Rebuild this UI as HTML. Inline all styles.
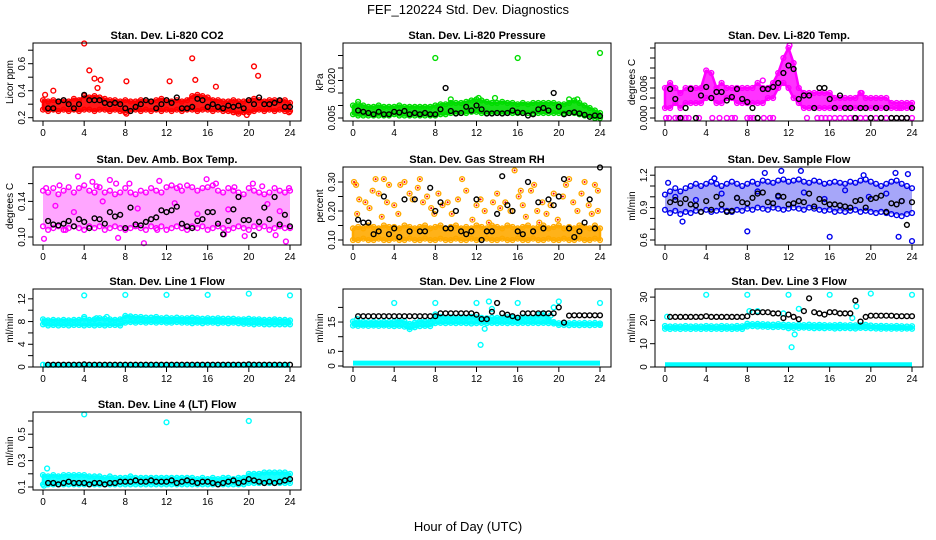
<!DOCTYPE html>
<html><head><meta charset="utf-8"><style>
html,body{margin:0;padding:0;background:#fff}
svg{display:block;font-family:"Liberation Sans",Arial,sans-serif}
</style></head><body>
<svg id="chart" width="936" height="540" viewBox="0 0 936 540" xmlns="http://www.w3.org/2000/svg">
<text x="468" y="14" text-anchor="middle" font-size="13">FEF_120224  Std. Dev. Diagnostics</text>
<text x="468" y="531" text-anchor="middle" font-size="13">Hour of Day (UTC)</text>
</svg>
<script>
// x axis ticks
const xTicks=[0,4,8,12,16,20,24];
// ---- CO2
const co2Lo=[.26,.25,.26,.25,.26,.25,.26,.25,.26,.26,.25,.26,.26,.25,.26,.25,.24,.25,.26,.25,.26,.25,.26,.25,.26,.25,.26,.25,.26,.26,.25,.26,.26,.25,.26,.25,.25,.24,.23,.24,.24,.25,.26,.25,.26,.25,.26,.25,.25];
const co2Hi=[.33,.32,.33,.32,.33,.32,.34,.33,.36,.35,.36,.35,.34,.33,.33,.32,.33,.32,.32,.33,.33,.32,.33,.34,.33,.32,.33,.32,.33,.36,.37,.36,.35,.33,.33,.32,.32,.33,.32,.32,.33,.34,.33,.32,.33,.33,.32,.33,.31];
const co2Out=[[4,.75],[4.5,.55],[5,.49],[5.6,.48],[5.3,.42],[1,.40],[8.1,.47],[12.3,.47],[14.5,.64],[14.8,.48],[16.8,.43],[20.5,.58],[20.9,.51],[19.8,.22],[8.1,.23],[0.2,.37],[23.9,.24]];
const co2Blk=[.27,.27,.32,.33,.30,.27,.30,.37,.33,.33,.33,.31,.30,.31,.30,.27,.25,.28,.30,.33,.32,.27,.30,.33,.31,.35,.27,.27,.28,.34,.33,.28,.30,.28,.27,.29,.28,.29,.27,.33,.30,.35,.30,.30,.31,.33,.28,.28];
// ---- Pressure
const prLo=[.0065,.006,.006,.006,.006,.006,.006,.006,.0065,.006,.006,.006,.006,.006,.006,.006,.006,.0065,.0065,.007,.007,.007,.007,.0075,.0075,.007,.007,.007,.007,.007,.007,.007,.007,.007,.007,.007,.007,.007,.007,.007,.007,.007,.007,.007,.0065,.006,.0055,.005,.005];
const prHi=[.010,.0105,.010,.0095,.0095,.010,.0095,.0095,.0095,.010,.0095,.0095,.0095,.0095,.0095,.0095,.010,.0105,.0105,.011,.011,.011,.0115,.012,.0125,.012,.0115,.011,.011,.0115,.011,.011,.0105,.011,.0105,.011,.011,.011,.011,.011,.0105,.0105,.011,.012,.011,.010,.009,.008,.007];
const prOut=[[8,.029],[16,.029],[24,.031],[0.5,.0115],[9.5,.0125],[13.8,.0130],[21,.0125],[21.8,.0125],[12.2,.0130]];
const prBlk=[.008,.0075,.007,.0065,.0075,.0065,.0065,.0075,.0072,.0078,.0065,.007,.0065,.007,.0065,.0065,.0085,.017,.0078,.0068,.007,.0095,.008,.010,.0085,.0068,.0068,.0070,.0068,.007,.0080,.0072,.007,.006,.0065,.0085,.009,.0080,.015,.0095,.0065,.007,.0073,.0068,.0063,.0055,.0060,.0058];
// ---- Li-820 Temp
const tpLo=[.002,.002,.003,.002,.003,.003,.003,.003,.004,.004,.003,.003,.004,.004,.003,.003,.003,.003,.003,.003,.004,.004,.006,.007,.006,.004,.003,.002,.002,.002,.002,.002,.002,.002,.002,.002,.002,.002,.002,.002,.002,.002,.002,.002,.002,.002,.002,.002,.002];
const tpHi=[.006,.007,.006,.005,.006,.006,.006,.006,.0095,.009,.006,.007,.006,.006,.006,.006,.006,.006,.007,.006,.006,.007,.009,.012,.014,.011,.006,.005,.005,.005,.005,.005,.005,.004,.004,.004,.004,.004,.005,.004,.004,.004,.004,.004,.003,.003,.003,.003,.003];
const tpZero=[0.1,0.4,1,1.3,1.6,2,2.3,3.3,4.6,5.3,6,6.5,6.8,8,8.3,8.6,9.6,10.2,10.5,13.8,14.8,15.2,15.6,16,16.5,17,17.5,18,18.4,19,19.5,20,20.5,21,21.5,22,22.5,23,23.5,24];
const tpOut=[[12.1,.0145],[9.5,.0075],[19.1,.0050],[22.8,.0020]];
const tpBlk=[.0058,.0038,.0,.0020,.0058,.0,.0045,.0062,.0040,.0052,.0052,.0035,.0042,.0058,.0038,.0032,.0020,.0,.0058,.0058,.0062,.0070,.0090,.0105,.0098,.0038,.0045,.0045,.0020,.0060,.0060,.0038,.0020,.0045,.0020,.0020,.0,.0020,.0020,.0,.0020,.0,.0020,.0,.0,.0,.0,.0020];
// ---- Amb Box Temp
const abLo=[.112,.108,.11,.112,.108,.11,.112,.11,.108,.112,.11,.112,.108,.11,.112,.11,.108,.11,.112,.11,.108,.112,.11,.112,.108,.11,.112,.11,.108,.112,.11,.112,.108,.11,.112,.11,.108,.11,.112,.11,.108,.112,.11,.112,.108,.11,.112,.11,.11];
const abHi=[.152,.15,.155,.148,.152,.156,.15,.155,.158,.152,.15,.156,.15,.152,.148,.15,.155,.15,.148,.152,.15,.155,.152,.15,.156,.158,.155,.152,.158,.156,.152,.155,.156,.158,.152,.15,.155,.152,.15,.148,.155,.152,.15,.148,.15,.155,.152,.15,.152];
const abOut=[[0.1,.098],[3.4,.168],[4.8,.162],[6.5,.164],[7.1,.160],[8.4,.160],[9.8,.093],[11.3,.163],[15.9,.165],[16.8,.160],[20.4,.160],[23.6,.095],[23.9,.155],[0.3,.155],[7.3,.099],[2.2,.108],[11.1,.108],[17.6,.103],[19.6,.101],[22.6,.102],[13.3,.157],[18.6,.156],[5.2,.157],[21.3,.157],[1.6,.158],[1.2,.135],[3.0,.128],[5.8,.140],[9.2,.132],[12.8,.138],[15.0,.126],[18.0,.131],[21.8,.137],[23.0,.129]];
const abBlk=[.118,.114,.113,.115,.118,.112,.120,.117,.110,.121,.120,.115,.128,.123,.125,.110,.133,.114,.113,.117,.120,.122,.130,.128,.130,.134,.115,.112,.110,.118,.120,.128,.128,.115,.103,.118,.131,.145,.119,.119,.102,.117,.133,.120,.145,.114,.125,.112];
// ---- Gas Stream RH
const rhLo=[.10,.10,.105,.10,.10,.105,.10,.10,.105,.10,.10,.105,.10,.10,.105,.10,.10,.105,.10,.10,.105,.10,.10,.105,.10,.10,.105,.10,.10,.105,.10,.10,.105,.10,.10,.105,.10,.10,.105,.10,.10,.105,.10,.10,.105,.10,.10,.105,.10];
const rhHi=[.14,.145,.14,.15,.145,.14,.15,.145,.145,.14,.15,.145,.14,.145,.15,.14,.145,.15,.14,.145,.15,.14,.145,.14,.15,.145,.14,.15,.145,.14,.15,.145,.14,.145,.15,.14,.145,.15,.14,.145,.15,.14,.145,.14,.15,.145,.14,.15,.14];
const rhOut=[[0.1,.30],[0.3,.29],[0.6,.24],[0.4,.19],[1.2,.23],[1.6,.21],[1.9,.27],[2.2,.31],[2.5,.26],[3,.31],[3.3,.23],[3.5,.29],[4,.22],[4.4,.19],[4.6,.29],[5,.30],[5.5,.26],[5.8,.24],[6.3,.28],[6.5,.31],[6.8,.23],[7.2,.25],[7.6,.21],[8.3,.26],[8.7,.22],[9.2,.23],[9.6,.19],[10.2,.24],[10.6,.31],[11,.27],[11.6,.17],[12,.22],[12.4,.24],[12.8,.20],[13.2,.16],[13.6,.23],[14,.26],[14.3,.21],[14.8,.23],[15.3,.20],[15.7,.34],[16.1,.25],[16.5,.22],[16.8,.18],[17.3,.27],[17.6,.29],[17.9,.20],[18.4,.23],[18.8,.19],[19.2,.22],[19.5,.26],[19.9,.17],[20.4,.25],[20.7,.29],[21,.31],[21.4,.23],[21.8,.20],[22.2,.26],[22.5,.30],[22.9,.22],[23.2,.19],[23.5,.29],[23.8,.27],[23.8,.20],[16.3,.27],[18.1,.16],[2.8,.18],[7.9,.19]];
const rhBlk=[.17,.16,.16,.12,.13,.25,.12,.14,.11,.24,.13,.24,.13,.13,.28,.20,.23,.14,.14,.20,.13,.12,.13,.24,.10,.13,.13,.19,.32,.22,.20,.13,.12,.30,.13,.23,.14,.24,.22,.25,.31,.14,.11,.13,.16,.24,.14,.35];
// ---- Sample Flow
const sfLo=[.88,.85,.87,.84,.86,.85,.87,.86,.88,.86,.87,.88,.87,.86,.88,.87,.89,.88,.90,.89,.88,.90,.89,.88,.89,.90,.89,.88,.90,.89,.88,.87,.88,.86,.87,.86,.87,.88,.86,.87,.86,.85,.86,.85,.84,.83,.82,.84,.85];
const sfHi=[1.02,1.05,1.08,1.05,1.08,1.10,1.12,1.10,1.12,1.14,1.12,1.10,1.12,1.14,1.12,1.10,1.12,1.14,1.12,1.15,1.14,1.13,1.15,1.16,1.14,1.15,1.16,1.14,1.13,1.15,1.14,1.12,1.13,1.14,1.13,1.12,1.14,1.13,1.15,1.16,1.14,1.12,1.10,1.12,1.14,1.15,1.12,1.10,1.08];
const sfOut=[[8,.68],[16,.63],[22.7,.63],[24,.59],[11.3,1.24],[13.2,1.24],[22.4,1.22],[23.6,1.21],[1.7,.77],[0.3,1.13],[9.7,1.22],[4.8,1.17],[19.3,1.20],[1.0,1.0],[3.0,.97],[5.5,1.03],[7.0,.99],[9.0,1.05],[11.0,1.0],[13.5,1.04],[15.5,.98],[17.5,1.06],[19.8,1.0],[21.5,1.03],[23.0,.96]];
const sfBlk=[.95,.97,.94,.98,.93,.92,.86,.96,.88,1.00,.93,.86,.87,.99,.95,.94,.99,1.03,1.04,.95,.94,1.01,1.00,.93,.94,.96,.95,1.03,.91,.98,.95,.93,.93,.92,.91,.90,.96,.97,.90,.98,.99,1.01,.86,.94,.93,.96,.74,.95];
// ---- Line 1 Flow
const l1Lo=[7.5,7.3,7.4,7.3,7.4,7.3,7.4,7.4,7.3,7.4,7.3,7.4,7.3,7.4,7.4,7.3,7.8,7.9,7.8,7.9,7.8,7.9,7.8,7.9,7.8,7.8,7.9,7.8,7.8,7.7,7.8,7.7,7.8,7.8,7.7,7.8,7.7,7.8,7.7,7.6,7.6,7.5,7.6,7.5,7.5,7.5,7.5,7.5,7.5];
const l1Hi=[8.4,8.2,8.3,8.2,8.3,8.2,8.3,8.3,8.5,8.3,8.4,8.6,8.5,8.4,8.3,8.4,9.0,8.9,8.8,8.8,8.7,8.7,8.8,8.6,8.7,8.6,8.7,8.6,8.6,8.7,8.6,8.5,8.6,8.5,8.6,8.5,8.5,8.5,8.4,8.4,8.5,8.4,8.4,8.3,8.3,8.4,8.3,8.3,8.2];
const l1Out=[[4,12.6],[8,12.7],[12,12.7],[16,12.7],[20,12.9],[24,12.6],[0,0.4],[4,8.8],[5.2,8.6],[6.2,8.8]];
const l1Blk=[.4,.4,.4,.4,.4,.4,.4,.45,.4,.4,.4,.4,.4,.4,.4,.4,.4,.4,.4,.4,.4,.4,.4,.4,.4,.4,.4,.4,.4,.4,.4,.4,.4,.4,.4,.4,.4,.4,.4,.45,.4,.4,.4,.4,.4,.4,.4,.4];
const l1Base=[.3,.3,.3,.3,.3,.3,.3,.3,.3,.3,.3,.3,.3,.3,.3,.3,.3,.3,.3,.3,.3,.3,.3,.3,.3,.3,.3,.3,.3,.3,.3,.3,.3,.3,.3,.3,.3,.3,.3,.3,.3,.3,.3,.3,.3,.3,.3,.3,.3];
// ---- Line 2 Flow
const l2Lo=[13.8,13.7,13.8,13.7,13.8,13.7,13.8,13.7,13.6,13.7,13.4,12.6,13.2,13.6,13.7,13.6,14.6,14.7,14.6,14.7,14.6,14.7,14.6,14.5,14.6,14.7,14.6,14.7,14.6,14.7,14.6,14.7,14.6,14.7,14.6,14.7,14.6,14.7,14.6,14.5,14.0,14.0,13.9,14.0,13.9,14.0,13.9,14.0,14.0];
const l2Hi=[15.2,15.0,15.1,15.0,15.1,15.0,15.1,15.0,15.2,15.4,15.2,14.4,14.8,15.3,15.2,15.3,17.6,16.8,16.4,16.6,16.5,16.6,16.5,16.8,16.6,16.4,16.3,16.5,16.4,16.5,16.6,16.5,16.4,16.6,16.5,16.4,17.4,18.0,16.0,15.0,14.6,14.7,14.6,14.7,14.6,14.7,14.6,14.7,14.5];
const l2Out=[[4,21.5],[8,21.5],[12,21.5],[16,21.5],[20,22.0],[24,21.5],[12.4,7.2],[12.8,12.7],[13.2,22.0],[13.5,19.5],[19.2,17.2],[19.5,20.0],[0.4,16.0]];
const l2Blk=[17,17,17,17,17,17,17,17,17,17,17,17,17,17,17,17,18,18,18,18,18,18,18,17.5,16,16,18.5,21.5,18,17.5,17,16.5,18,18,18,18,18,18,18,20,14.8,17.2,17.3,17.3,17.3,17.3,17.3,17.3];
const l2Base=[1,1,1,1,1,1,1,1,1,1,1,1,1,1,1,1,1,1,1,1,1,1,1,1,1,1,1,1,1,1,1,1,1,1,1,1,1,1,1,1,1,1,1,1,1,1,1,1,1];
// ---- Line 3 Flow
const l3Lo=[16.4,16.3,16.4,16.3,16.4,16.3,16.4,16.3,16.4,16.3,16.4,16.3,16.4,16.3,16.4,16.3,17.4,17.5,17.4,17.3,17.2,17.1,17.2,17.1,16.6,16.8,16.8,16.9,16.8,16.6,16.7,16.6,16.8,16.5,16.6,16.7,16.6,16.5,16.8,16.7,16.6,16.5,16.4,16.5,16.4,16.5,16.4,16.5,16.4];
const l3Hi=[17.6,17.4,17.5,17.4,17.6,17.4,17.5,17.4,17.6,17.5,17.4,17.6,17.5,17.4,17.6,17.5,18.6,18.4,18.5,18.4,18.3,18.2,18.4,18.2,18.1,18.0,18.1,18.0,18.2,18.0,18.1,18.0,17.9,18.0,18.1,17.9,18.0,17.9,18.0,18.1,17.8,17.6,17.7,17.6,17.5,17.6,17.5,17.4,17.5];
const l3Out=[[4,31],[8,31],[12,31],[16,31],[20,31.5],[24,31],[12.3,8.5],[12.6,14],[13,25],[18.2,21],[18.6,26],[8.2,24],[9,24],[11.5,23],[0.2,21.6]];
const l3Blk=[21.5,21.5,21.5,21.5,21.5,21.5,21.5,21.8,21.5,21.5,21.5,21.5,21.5,21.5,21.5,21.8,23.5,23.5,23.5,23.5,23,23,21,22.5,21.5,20.5,24,29.5,23.5,23,22.5,23.5,23.5,23,23,23,28.5,19.5,21.5,22,22,22,22,22,21.8,21.8,21.8,21.8];
const l3Base=[1,1,1,1,1,1,1,1,1,1,1,1,1,1,1,1,1,1,1,1,1,1,1,1,1,1,1,1,1,1,1,1,1,1,1,1,1,1,1,1,1,1,1,1,1,1,1,1,1];
// ---- Line 4 Flow
const l4Lo=[.12,.12,.12,.12,.12,.12,.12,.12,.12,.12,.12,.12,.12,.12,.12,.12,.12,.12,.12,.12,.12,.12,.12,.12,.12,.12,.12,.12,.12,.12,.12,.12,.12,.12,.12,.12,.12,.12,.12,.12,.13,.13,.13,.13,.13,.13,.13,.13,.13];
const l4Hi=[.19,.18,.19,.18,.19,.19,.19,.19,.19,.18,.18,.18,.17,.18,.17,.17,.17,.18,.17,.17,.17,.17,.17,.17,.17,.17,.17,.17,.17,.17,.16,.17,.16,.17,.16,.17,.17,.16,.17,.17,.20,.20,.20,.21,.21,.21,.21,.21,.20];
const l4Out=[[4,.65],[12,.59],[20,.60],[0.4,.24],[0.1,.11]];
const l4Blk=[.13,.13,.12,.13,.14,.13,.13,.13,.12,.13,.13,.12,.13,.13,.14,.14,.14,.15,.14,.14,.15,.14,.14,.14,.15,.13,.14,.15,.14,.13,.14,.14,.13,.12,.13,.14,.15,.13,.14,.16,.15,.14,.13,.14,.13,.14,.15,.16];

const svg=document.getElementById('chart');
const NS='http://www.w3.org/2000/svg';
function mk(tag,attrs,parent){const e=document.createElementNS(NS,tag);for(const k in attrs)e.setAttribute(k,attrs[k]);(parent||svg).appendChild(e);return e;}

const colL=[33,343,655], rowT=[43,167,289,412];
const panels=[
 {name:'co2',title:'Stan. Dev. Li-820 CO2',yl:'Licor ppm',c:0,r:0,col:'#ff0000',v0:.2,y0:117.7,k:135,lo:co2Lo,hi:co2Hi,out:co2Out,blk:co2Blk,ticks:[.2,.3,.4,.5,.6,.7],labs:['0.2','','0.4','','0.6','']},
 {name:'pressure',title:'Stan. Dev. Li-820 Pressure',yl:'kPa',c:1,r:0,col:'#00dd00',v0:.005,y0:118,k:2500,lo:prLo,hi:prHi,out:prOut,blk:prBlk,ticks:[.005,.010,.015,.020,.025,.030],labs:['0.005','','','0.020','','']},
 {name:'li820-temp',title:'Stan. Dev. Li-820 Temp.',yl:'degrees C',c:2,r:0,col:'#ff00ff',v0:0,y0:118,k:5000,lo:tpLo,hi:tpHi,out:tpOut,blk:tpBlk,zero:tpZero,ticks:[0,.002,.004,.006,.008,.010,.012,.014],labs:['0.000','','','0.006','','','',''],op:.8},
 {name:'amb-box-temp',title:'Stan. Dev. Amb. Box Temp.',yl:'degrees C',c:0,r:1,col:'#ff00ff',v0:.10,y0:237,k:890,lo:abLo,hi:abHi,out:abOut,blk:abBlk,ticks:[.10,.12,.14,.16],labs:['0.10','','0.14',''],op:.35,nostroke:true},
 {name:'gas-stream-rh',title:'Stan. Dev. Gas Stream RH',yl:'percent',c:1,r:1,col:'#ffaa00',v0:.10,y0:240,k:290,lo:rhLo,hi:rhHi,out:rhOut,blk:rhBlk,ticks:[.10,.15,.20,.25,.30],labs:['0.10','','0.20','','0.30'],dot:'#ff0000'},
 {name:'sample-flow',title:'Stan. Dev. Sample Flow',yl:'ml/min',c:2,r:1,col:'#0000ee',v0:.6,y0:240,k:108,lo:sfLo,hi:sfHi,out:sfOut,blk:sfBlk,ticks:[.6,.7,.8,.9,1.0,1.1,1.2],labs:['0.6','','','0.9','','','1.2'],op:.35,nostroke:true},
 {name:'line1-flow',title:'Stan. Dev. Line 1 Flow',yl:'ml/min',c:0,r:2,col:'#00ffff',v0:0,y0:367,k:5.68,lo:l1Lo,hi:l1Hi,out:l1Out,blk:l1Blk,base:l1Base,ticks:[0,2,4,6,8,10,12],labs:['0','','4','','8','','12']},
 {name:'line2-flow',title:'Stan. Dev. Line 2 Flow',yl:'ml/min',c:1,r:2,col:'#00ffff',v0:0,y0:366,k:2.93,lo:l2Lo,hi:l2Hi,out:l2Out,blk:l2Blk,base:l2Base,ticks:[0,5,10,15,20],labs:['0','5','','15','']},
 {name:'line3-flow',title:'Stan. Dev. Line 3 Flow',yl:'ml/min',c:2,r:2,col:'#00ffff',v0:0,y0:367,k:2.33,lo:l3Lo,hi:l3Hi,out:l3Out,blk:l3Blk,base:l3Base,ticks:[0,10,20,30],labs:['0','10','20','30']},
 {name:'line4-flow',title:'Stan. Dev. Line 4 (LT) Flow',yl:'ml/min',c:0,r:3,col:'#00ffff',v0:.1,y0:487,k:132,lo:l4Lo,hi:l4Hi,out:l4Out,blk:l4Blk,ticks:[.1,.2,.3,.4,.5,.6],labs:['0.1','','0.3','','0.5','']}
];

function circ(g,x,y,stroke,name){
  const c=mk('circle',{cx:x.toFixed(1),cy:y.toFixed(1),r:2.4,fill:'none',stroke:stroke,'stroke-width':1.4},g);
  
  
}

panels.forEach(p=>{
  const L=colL[p.c],T=rowT[p.r],B=T+78,R=L+268;
  const xs=h=>L+10+h*247/24;
  const ys=v=>p.y0-(v-p.v0)*p.k;
  const g=mk('g',{});
  
  
  const t=mk('text',{x:(L+R)/2,y:T-4,'text-anchor':'middle','font-size':11,'font-weight':'bold'},g);
  t.textContent=p.title;
  
  
  const yl=mk('text',{x:0,y:0,'text-anchor':'middle','font-size':10,transform:`translate(${L-20},${(T+B)/2}) rotate(-90)`},g);
  yl.textContent=p.yl;
  
  
  const dg=mk('g',{},g);
  
  
  let pts=[];
  p.hi.forEach((v,i)=>pts.push(xs(i*0.5).toFixed(1)+','+ys(v).toFixed(1)));
  for(let i=p.lo.length-1;i>=0;i--)pts.push(xs(i*0.5).toFixed(1)+','+ys(p.lo[i]).toFixed(1));
  const band=mk('polygon',{points:pts.join(' '),fill:p.col,'fill-opacity':p.op||0.9,stroke:p.nostroke?'none':p.col,'stroke-width':2.5,'stroke-linejoin':'round'},dg);
  
  
  p.hi.forEach((v,i)=>circ(dg,xs(i*0.5),ys(v),p.col,p.name+'-point'));
  p.lo.forEach((v,i)=>circ(dg,xs(i*0.5),ys(v),p.col,p.name+'-point'));
  if(p.base){
    const bp=[];p.base.forEach((v,i)=>bp.push(xs(i*0.5).toFixed(1)+','+ys(v).toFixed(1)));
    const bl=mk('polyline',{points:bp.join(' '),fill:'none',stroke:p.col,'stroke-width':5},dg);
    
    
  }
  if(p.zero){p.zero.forEach(h=>circ(dg,xs(h),ys(0),p.col,p.name+'-zero-point'));}
  p.out.forEach(o=>circ(dg,xs(o[0]),ys(o[1]),p.col,p.name+'-point'));
  if(p.dot){p.out.forEach(o=>{const d=mk('circle',{cx:xs(o[0]),cy:ys(o[1]),r:1,fill:p.dot},dg);});}
  p.blk.forEach((v,i)=>circ(dg,xs((i+1)*0.5),ys(v),'#000',p.name+'-mean-point'));
  const box=mk('rect',{x:L,y:T,width:R-L,height:B-T,fill:'none',stroke:'#000','stroke-width':1},g);
  
  
  xTicks.forEach(h=>{
    mk('line',{x1:xs(h),x2:xs(h),y1:B,y2:B+5,stroke:'#000'},g);
    const tx=mk('text',{x:xs(h),y:B+15,'text-anchor':'middle','font-size':10},g);
    tx.textContent=h;
    
    
  });
  mk('line',{x1:xs(0),x2:xs(24),y1:B,y2:B,stroke:'#000'},g);
  p.ticks.forEach((v,i)=>{
    mk('line',{x1:L-5,x2:L,y1:ys(v),y2:ys(v),stroke:'#000'},g);
    if(p.labs[i]){
      const ty=mk('text',{x:0,y:0,'text-anchor':'middle','font-size':10,transform:`translate(${L-8},${ys(v)}) rotate(-90)`},g);
      ty.textContent=p.labs[i];
      
      
    }
  });
});
</script>
</body></html>
